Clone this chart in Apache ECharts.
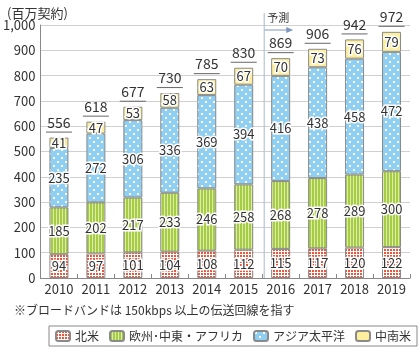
<!DOCTYPE html>
<html><head><meta charset="utf-8">
<script src="https://cdn.jsdelivr.net/npm/echarts@6/dist/echarts.min.js"></script>
<style>html,body{margin:0;padding:0;background:#fff}#c{width:419px;height:351px}</style>
</head><body><div id="c"></div>
<script>
const years = ['2010','2011','2012','2013','2014','2015','2016','2017','2018','2019'];
const northAmerica = [94, 97, 101, 104, 108, 112, 115, 117, 120, 122];
const emea = [185, 202, 217, 233, 246, 258, 268, 278, 289, 300];
const asiaPacific = [235, 272, 306, 336, 369, 394, 416, 438, 458, 472];
const latinAmerica = [41, 47, 53, 58, 63, 67, 70, 73, 76, 79];
const totals = [556, 618, 677, 730, 785, 830, 869, 906, 942, 972];
const seriesNames = ['北米', '欧州･中東・アフリカ', 'アジア太平洋', '中南米'];

const FONT = '"Noto Sans CJK JP", "Noto Sans", sans-serif';
function pat(w,h,draw){const c=document.createElement('canvas');c.width=w;c.height=h;const g=c.getContext('2d');draw(g);return {image:c,repeat:'repeat'};}
const naPat = pat(3,3,g=>{g.fillStyle='#fff';g.fillRect(0,0,3,3);g.fillStyle='#e9573c';g.fillRect(0,0,2,2);});
const emPat = pat(3,3,g=>{g.fillStyle='#a6cb45';g.fillRect(0,0,3,3);g.fillStyle='#dcedaa';g.fillRect(2,0,1,3);});
const apPat = pat(8,8,g=>{g.fillStyle='#8ecff2';g.fillRect(0,0,8,8);g.fillStyle='#fff';g.fillRect(1,1,2,2);g.fillRect(5,5,2,2);});
const laColor = '#fcee9c';
const fills = [naPat, emPat, apPat, laColor];
const datas = [northAmerica, emea, asiaPacific, latinAmerica];

const chart = echarts.init(document.getElementById('c'), null, {renderer:'canvas'});
const series = datas.map((d,i)=>({
  name: seriesNames[i], type:'bar', stack:'s', barWidth:19, data:d,
  itemStyle:{color:fills[i], borderColor:'#8a8a8a', borderWidth:1},
  label:{show:true, position:'inside', fontFamily:FONT, fontSize:13, color:'#333',
    textBorderColor:'#fff', textBorderWidth:3},
  emphasis:{disabled:true}
}));
series.push({
  name:'total', type:'bar', stack:'s', barWidth:19, data:years.map(()=>0),
  itemStyle:{color:'transparent', borderWidth:0},
  label:{show:true, position:'top', distance:4,
    formatter:p=>'{v|'+totals[p.dataIndex]+'}\n{u| }',
    rich:{v:{fontFamily:FONT, fontSize:14, color:'#333', lineHeight:16, align:'center'},
          u:{width:26, height:1, lineHeight:3, backgroundColor:'#666', fontSize:1, align:'center'}}},
  emphasis:{disabled:true}
});

chart.setOption({
  animation:false,
  textStyle:{fontFamily:FONT},
  grid:{left:39, right:9, top:25, bottom:73},
  title:{text:'(百万契約)', left:2, top:2, textStyle:{fontFamily:FONT, fontSize:13, fontWeight:'normal', color:'#333'}},
  legend:{data:seriesNames, top:326, left:49, itemWidth:14, itemHeight:10, itemGap:10,
    borderColor:'#888', borderWidth:1, padding:[4,6,4,6],
    textStyle:{fontFamily:FONT, fontSize:12, color:'#333'}},
  xAxis:{type:'category', data:years,
    axisLine:{lineStyle:{color:'#888'}},
    axisTick:{show:true, inside:true, length:4, lineStyle:{color:'#888'}},
    axisLabel:{interval:0, fontFamily:FONT, fontSize:13, color:'#333', margin:5}},
  yAxis:{type:'value', min:0, max:1000, interval:100,
    axisLine:{show:true, lineStyle:{color:'#888'}},
    axisTick:{show:false},
    splitLine:{lineStyle:{color:'#d0d0d0'}},
    axisLabel:{fontFamily:FONT, fontSize:13, color:'#333', margin:5,
      formatter:v=>v.toLocaleString('en-US')}},
  series:series
});

const x5 = chart.convertToPixel({xAxisIndex:0}, years[5]);
const x6 = chart.convertToPixel({xAxisIndex:0}, years[6]);
const xm = (x5+x6)/2 + 2;
const yBottom = chart.convertToPixel({yAxisIndex:0}, 0);
chart.setOption({graphic:[
  {type:'line', shape:{x1:xm, y1:13, x2:xm, y2:yBottom}, style:{stroke:'#a9b9cf', lineWidth:1}, z:1},
  {type:'line', shape:{x1:xm, y1:30, x2:xm+22, y2:30}, style:{stroke:'#7d98bd', lineWidth:1}},
  {type:'polygon', shape:{points:[[xm+22,27],[xm+29,30],[xm+22,33]]}, style:{fill:'#7d98bd'}},
  {type:'text', x:xm+3, y:18, style:{text:'予測', fontFamily:FONT, fontSize:11, fill:'#333', verticalAlign:'middle'}},
  {type:'text', x:14, y:310, style:{text:'※ブロードバンドは 150kbps 以上の伝送回線を指す', fontFamily:FONT, fontSize:12, fill:'#333', verticalAlign:'middle'}}
]});
</script></body></html>
